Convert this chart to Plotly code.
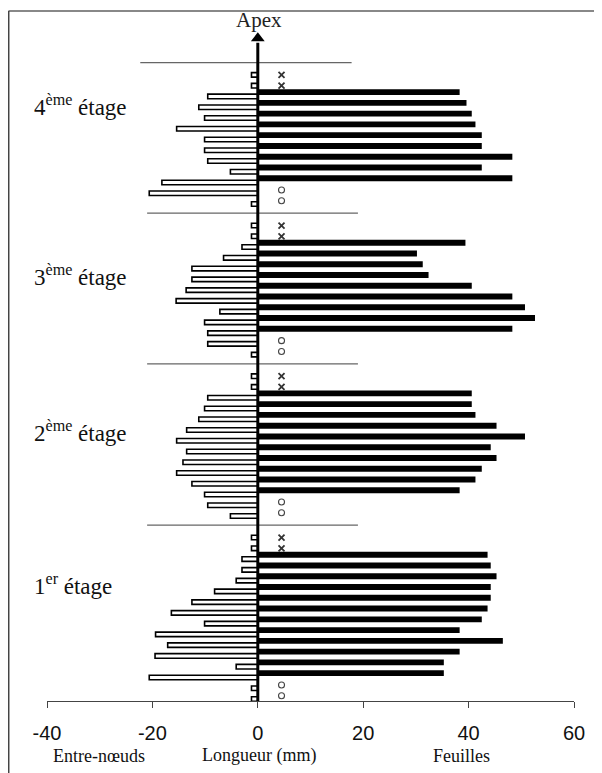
import plotly.graph_objects as go

# ---------------- data (base -> apex inside each stage) ----------------
stage_labels = ["1<sup>er</sup> étage", "2<sup>ème</sup> étage",
                "3<sup>ème</sup> étage", "4<sup>ème</sup> étage"]

internodes_1 = [1.2, 1.2, 20.6, 4.1, 19.5, 17.1, 19.4, 10.1, 16.4, 12.5, 8.2, 4.1, 3.0, 3.0, 1.2, 1.2]
leaves_1 = [None, None, 35.3, 35.3, 38.3, 46.5, 38.3, 42.5, 43.6, 44.2, 44.2, 45.3, 44.2, 43.6, None, None]
marks_1 = ["o", "o", "", "", "", "", "", "", "", "", "", "", "", "", "x", "x"]

internodes_2 = [5.2, 9.5, 10.1, 12.5, 15.4, 14.2, 13.5, 15.4, 13.5, 11.2, 10.1, 9.5, 1.2, 1.2]
leaves_2 = [None, None, 38.3, 41.3, 42.5, 45.3, 44.2, 50.7, 45.3, 41.3, 40.6, 40.6, None, None]
marks_2 = ["o", "o", "", "", "", "", "", "", "", "", "", "", "x", "x"]

internodes_3 = [1.2, 9.5, 9.5, 10.1, 7.2, 15.5, 13.6, 12.5, 12.5, 6.5, 3.0, 1.2, 1.2]
leaves_3 = [None, None, 48.3, 52.6, 50.7, 48.3, 40.6, 32.4, 31.3, 30.2, 39.4, None, None]
marks_3 = ["o", "o", "", "", "", "", "", "", "", "", "", "x", "x"]

internodes_4 = [1.2, 20.6, 18.2, 5.2, 9.5, 10.1, 10.1, 15.4, 10.1, 11.2, 9.5, 1.2, 1.2]
leaves_4 = [None, None, 48.3, 42.5, 48.3, 42.5, 42.5, 41.3, 40.6, 39.6, 38.3, None, None]
marks_4 = ["o", "o", "", "", "", "", "", "", "", "", "", "x", "x"]

tick_values = [-40, -20, 0, 20, 40, 60]
tick_labels = ["-40", "-20", "0", "20", "40", "60"]
axis_words = ["Entre-nœuds", "Longueur (mm)", "Feuilles"]

stages = [(internodes_1, leaves_1, marks_1), (internodes_2, leaves_2, marks_2),
          (internodes_3, leaves_3, marks_3), (internodes_4, leaves_4, marks_4)]

# ---------------- positions: one slot per node, one empty slot between stages ----------------
int_x, int_y, leaf_x, leaf_y = [], [], [], []
xm_y, om_y = [], []
separators = []
slot = 0
for si, (inter, leaves, marks) in enumerate(stages):
    if si > 0:
        separators.append(slot)
        slot += 1
    for k in range(len(inter)):
        s = slot + k
        int_x.append(-inter[k])
        int_y.append(s)
        if leaves[k] is not None:
            leaf_x.append(leaves[k])
            leaf_y.append(s + 0.4)
        if marks[k] == "x":
            xm_y.append(s)
        elif marks[k] == "o":
            om_y.append(s + 0.3)
    slot += len(inter)
separators.append(slot)  # top separator

fig = go.Figure()
fig.add_trace(go.Bar(orientation="h", x=int_x, y=int_y, width=0.42,
                     marker=dict(color="white", line=dict(color="black", width=1.6)),
                     showlegend=False, hoverinfo="skip"))
fig.add_trace(go.Bar(orientation="h", x=leaf_x, y=leaf_y, width=0.55,
                     marker=dict(color="black", line=dict(width=0)),
                     showlegend=False, hoverinfo="skip"))
fig.add_trace(go.Scatter(x=[4.5] * len(xm_y), y=xm_y, mode="markers",
                         marker=dict(symbol="x-thin", size=6, line=dict(color="#333", width=1.8)),
                         showlegend=False, hoverinfo="skip"))
fig.add_trace(go.Scatter(x=[4.5] * len(om_y), y=om_y, mode="markers",
                         marker=dict(symbol="circle-open", size=6, color="#444", line=dict(width=1.1)),
                         showlegend=False, hoverinfo="skip"))
# arrow head of the apex axis
fig.add_trace(go.Scatter(x=[0], y=[61.4], mode="markers",
                         marker=dict(symbol="triangle-up", size=12, color="black"),
                         showlegend=False, hoverinfo="skip", cliponaxis=False))

shapes = []
for i, s in enumerate(separators):
    if i == len(separators) - 1:
        x0, x1 = -22.3, 17.8
    else:
        x0, x1 = -21.0, 19.0
    shapes.append(dict(type="line", xref="x", yref="y", x0=x0, x1=x1, y0=s + 0.15, y1=s + 0.15,
                       line=dict(color="#666", width=1.2)))
# apex axis line
shapes.append(dict(type="line", xref="x", yref="y", x0=0, x1=0, y0=-0.8, y1=61.0,
                   line=dict(color="black", width=3), layer="above"))
# frame lines of the original picture
shapes.append(dict(type="line", xref="paper", yref="paper", x0=-0.0731, x1=1.06, y0=1.0, y1=1.0,
                   line=dict(color="#888", width=2)))
shapes.append(dict(type="line", xref="paper", yref="paper", x0=-0.0731, x1=-0.0731, y0=1.0, y1=-0.11,
                   line=dict(color="#444", width=2)))

annotations = []
annotations.append(dict(x=0.3, y=63.1, xref="x", yref="y", text="Apex", showarrow=False,
                        font=dict(family="Liberation Serif", size=21, color="#222")))
for lab, ly in zip(stage_labels, [10.6, 24.9, 39.4, 55.2]):
    annotations.append(dict(x=-0.0285, y=ly, xref="paper", yref="y", text=lab, showarrow=False,
                            xanchor="left", yanchor="middle",
                            font=dict(family="Liberation Serif", size=23, color="#111")))
for word, wx in zip(axis_words, [-30.1, 0.2, 38.6]):
    annotations.append(dict(x=wx, y=-0.079, xref="x", yref="paper", text=word, showarrow=False,
                            xanchor="center", yanchor="middle",
                            font=dict(family="Liberation Serif", size=18, color="#111")))

fig.update_layout(
    width=594, height=765,
    margin=dict(l=39, r=28, t=3, b=72),
    paper_bgcolor="white", plot_bgcolor="white",
    barmode="overlay",
    shapes=shapes, annotations=annotations,
    xaxis=dict(range=[-40, 60], tickvals=tick_values, ticktext=tick_labels,
               showgrid=False, zeroline=False, showline=True, linecolor="#444", linewidth=1,
               ticks="outside", ticklen=6, tickcolor="#444", tickwidth=1,
               ticklabelstandoff=8,
               tickfont=dict(family="Liberation Sans", size=20, color="#111")),
    yaxis=dict(range=[-0.19, 63.94], visible=False),
)

fig.write_html("out.html")
